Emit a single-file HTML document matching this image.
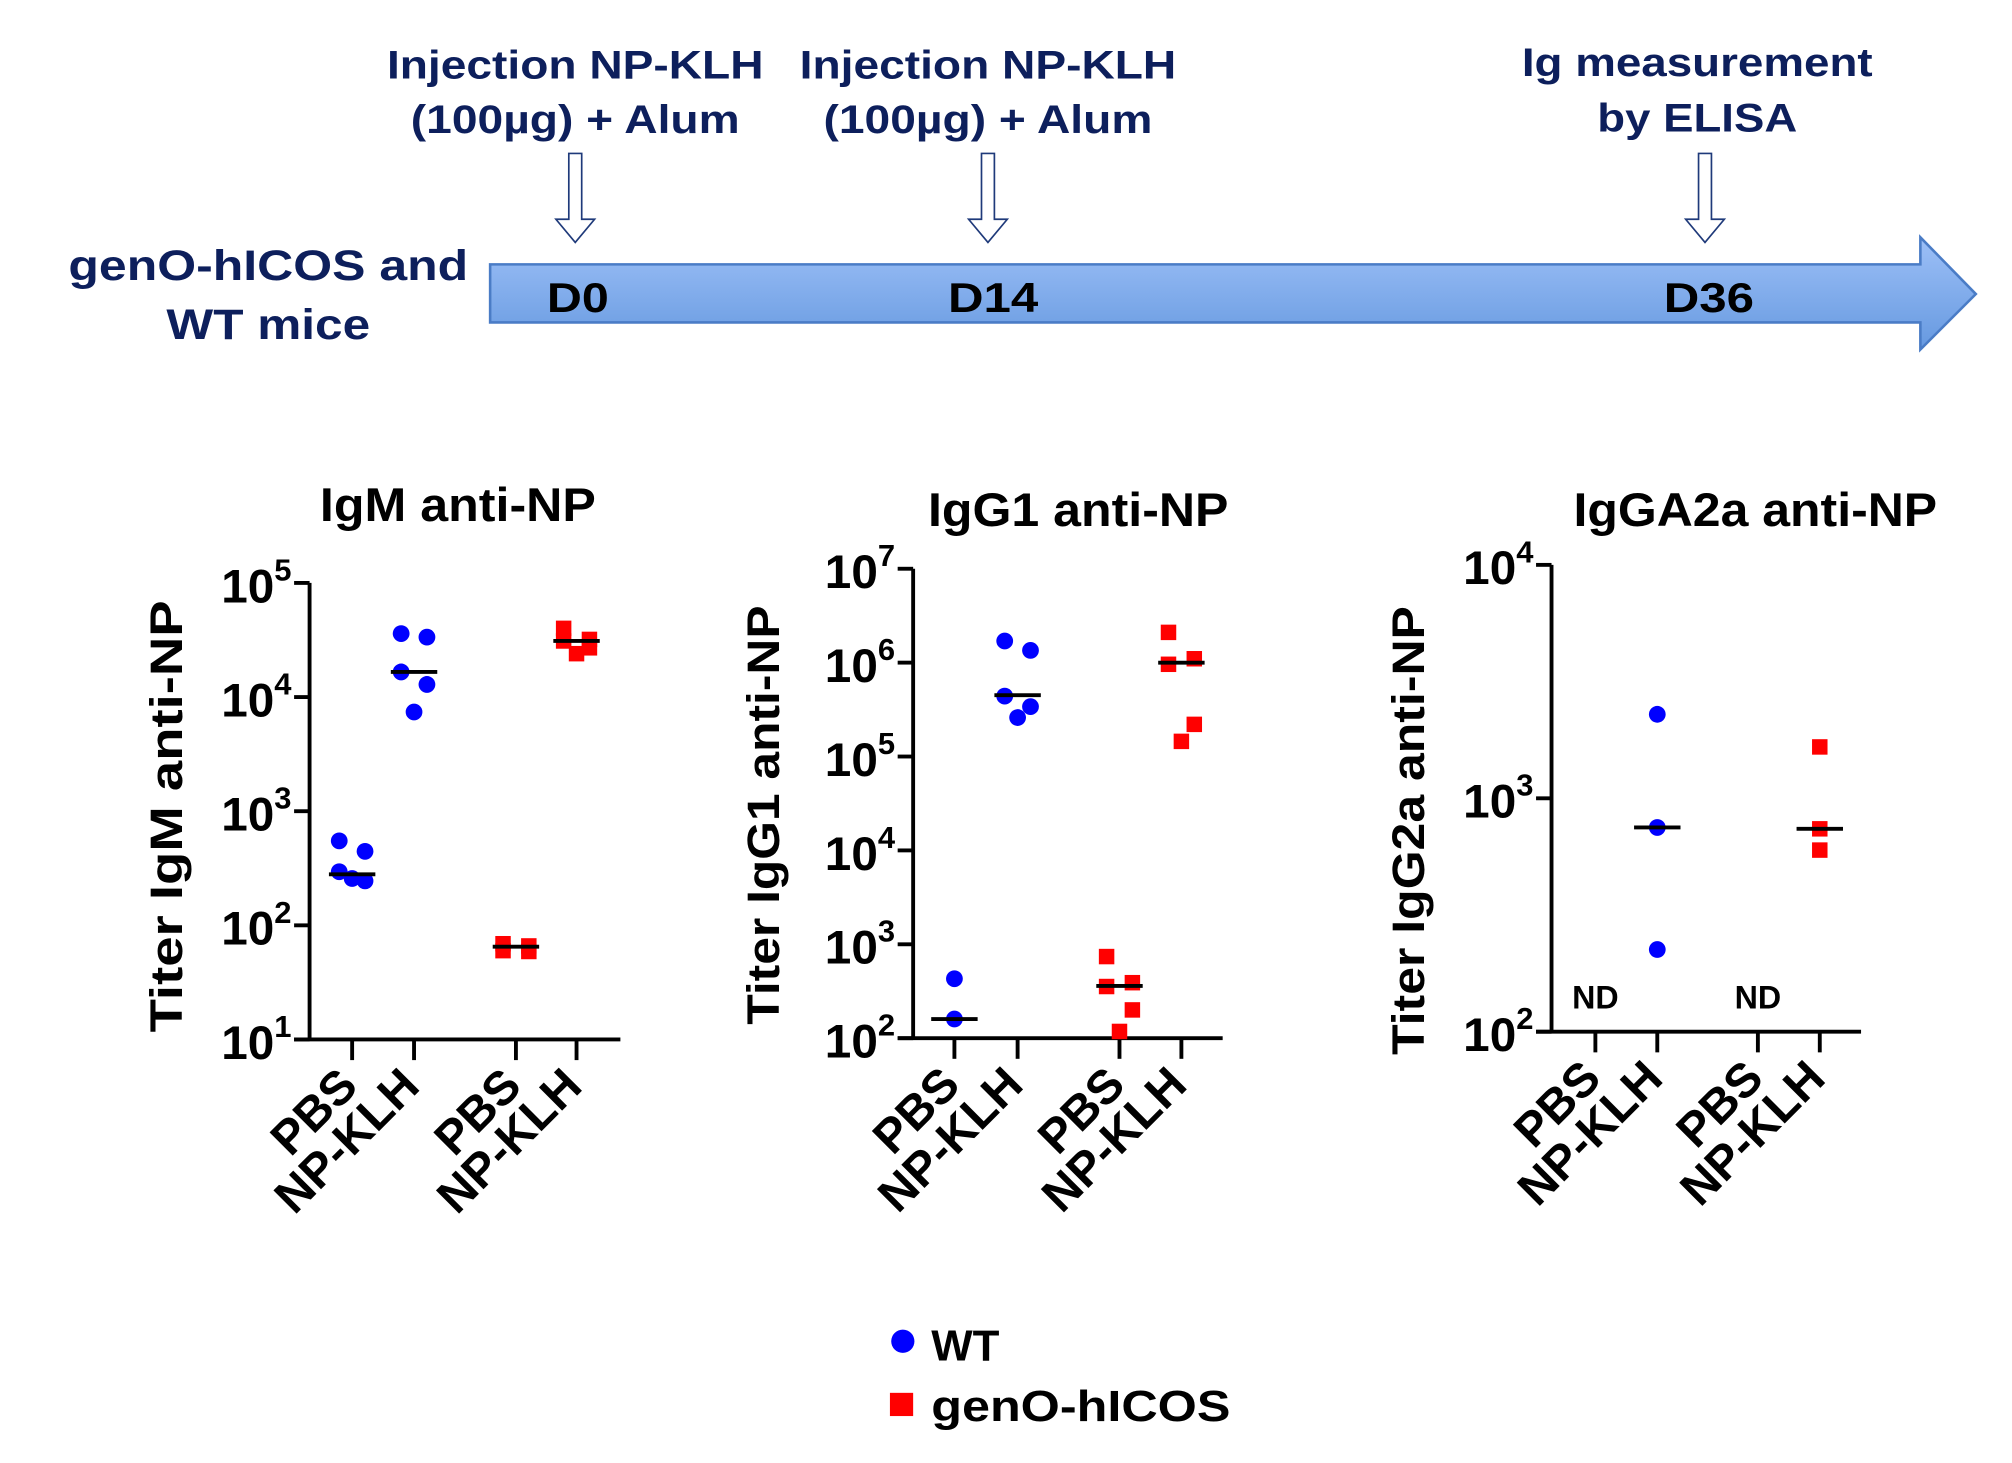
<!DOCTYPE html>
<html><head><meta charset="utf-8"><style>
html,body{margin:0;padding:0;background:#fff}
svg{display:block}
text{font-family:"Liberation Sans",Arial,sans-serif;font-weight:bold}
</style></head><body>
<svg id="fig" width="2012" height="1463" viewBox="0 0 1560 1134.4" xmlns="http://www.w3.org/2000/svg">
<defs>
<linearGradient id="ag" x1="0" y1="0" x2="0" y2="1">
<stop offset="0" stop-color="#9dc0f7"/><stop offset="1" stop-color="#6699e0"/>
</linearGradient>
</defs>
<g fill="#0d1f5c">
<text x="446" y="61" font-size="31" text-anchor="middle" textLength="292" lengthAdjust="spacingAndGlyphs">Injection NP-KLH</text>
<text x="446" y="103" font-size="31" text-anchor="middle" textLength="255" lengthAdjust="spacingAndGlyphs">(100µg) + Alum</text>
<text x="766" y="61" font-size="31" text-anchor="middle" textLength="292" lengthAdjust="spacingAndGlyphs">Injection NP-KLH</text>
<text x="766" y="103" font-size="31" text-anchor="middle" textLength="255" lengthAdjust="spacingAndGlyphs">(100µg) + Alum</text>
<text x="1316" y="59" font-size="31" text-anchor="middle" textLength="272" lengthAdjust="spacingAndGlyphs">Ig measurement</text>
<text x="1316" y="102" font-size="31" text-anchor="middle" textLength="155" lengthAdjust="spacingAndGlyphs">by ELISA</text>
<text x="208" y="217" font-size="33" text-anchor="middle" textLength="310" lengthAdjust="spacingAndGlyphs">genO-hICOS and</text>
<text x="208" y="263" font-size="33" text-anchor="middle" textLength="158" lengthAdjust="spacingAndGlyphs">WT mice</text>
<path d="M380,205 L1489,205 L1489,184 L1532,228 L1489,271 L1489,250 L380,250 Z" fill="url(#ag)" stroke="#4a7cc6" stroke-width="2"/>
<g fill="#fff" stroke="#1f3a7a" stroke-width="1.3">
<path d="M441,119 L451,119 L451,170 L461,170 L446,188 L431,170 L441,170 Z"/>
<path d="M761,119 L771,119 L771,170 L781,170 L766,188 L751,170 L761,170 Z"/>
<path d="M1317,119 L1327,119 L1327,170 L1337,170 L1322,188 L1307,170 L1317,170 Z"/>
</g>
<g fill="#000" font-size="32" text-anchor="middle">
<text x="448" y="242" textLength="48" lengthAdjust="spacingAndGlyphs">D0</text>
<text x="770" y="242" textLength="70" lengthAdjust="spacingAndGlyphs">D14</text>
<text x="1325" y="242" textLength="70" lengthAdjust="spacingAndGlyphs">D36</text>
</g>
</g>
<g id="charts"></g>
<g>
<circle cx="700" cy="1040" r="9" fill="#0000ff"/>
<text x="722" y="1055" font-size="34">WT</text>
<rect x="690" y="1080" width="18" height="18" fill="#ff0000"/>
<text x="722" y="1102" font-size="34" textLength="232" lengthAdjust="spacingAndGlyphs">genO-hICOS</text>
</g>
</svg>
<script>
// IgM panel data
const igmCategories = ["PBS","NP-KLH","PBS","NP-KLH"];
const igmWT_PBS = [550,445,295,245,257];
const igmWT_KLH = [36000,33500,16600,12900,7400];
const igmGeno_PBS = [69,66,60,59];
const igmGeno_KLH = [40000,32000,31000,27000,24000];
const igmMedians = [280,16600,65,31000];
const igmTicks = [1,2,3,4,5];
// IgG1 panel data
const igg1WT_PBS = [430,160];
const igg1WT_KLH = [1700000,1350000,440000,340000,260000];
const igg1Geno_PBS = [740,390,355,200,118];
const igg1Geno_KLH = [2100000,1100000,960000,220000,145000];
const igg1Medians = [160,450000,360,1000000];
const igg1Ticks = [2,3,4,5,6,7];
// IgG2a panel data
const igg2WT_KLH = [2290,750,225];
const igg2Geno_KLH = [1660,740,600];
const igg2Medians = [null,750,null,740];
const igg2Ticks = [2,3,4];

const NS="http://www.w3.org/2000/svg";
const root=document.getElementById('charts');
function mk(tag,attrs,parent){const e=document.createElementNS(NS,tag);for(const k in attrs)e.setAttribute(k,attrs[k]);(parent||root).appendChild(e);return e;}

function jitter(n,i){
  if(n<=3) return 0;
  const pat=[-10,10,-10,10,0,0];
  return pat[i%pat.length];
}

function panel(cfg){
  const g=mk('g',{});
  
  
  const lo=cfg.ticks[0], hi=cfg.ticks[cfg.ticks.length-1];
  const y=v=>cfg.y0-(Math.log10(v)-lo)/(hi-lo)*(cfg.y0-cfg.y1);
  const x=i=>cfg.xs[i];
  const t=mk('text',{x:cfg.titleX,y:cfg.titleY,'font-size':37,'text-anchor':'middle',textLength:cfg.titleLen,lengthAdjust:'spacingAndGlyphs'},g);
  t.textContent=cfg.title;
  
  
  const yt=mk('text',{transform:`translate(${cfg.ytX},${cfg.ytY}) rotate(-90)`,'font-size':35,'text-anchor':'middle',textLength:cfg.ytLen,lengthAdjust:'spacingAndGlyphs'},g);
  yt.textContent=cfg.ytitle;
  
  
  const ax=mk('path',{d:`M${cfg.ax},${cfg.y1} L${cfg.ax},${cfg.y0} M${cfg.ax-12},${cfg.y0} L${cfg.xEnd},${cfg.y0}`,stroke:'#000','stroke-width':3,fill:'none'},g);
  
  
  cfg.ticks.forEach(d=>{
    const yy=y(Math.pow(10,d));
    const tk=mk('line',{x1:cfg.ax-12,x2:cfg.ax,y1:yy,y2:yy,stroke:'#000','stroke-width':3},g);
    
    
    const lb=mk('text',{x:cfg.ax-14,y:yy+15,'font-size':37,'text-anchor':'end'},g);
    
    
    const a=document.createElementNS(NS,'tspan');a.textContent='10';lb.appendChild(a);
    const b=document.createElementNS(NS,'tspan');b.textContent=String(d);b.setAttribute('font-size','24');b.setAttribute('dy','-17');lb.appendChild(b);
  });
  igmCategories.forEach((c,i)=>{
    const tk=mk('line',{x1:x(i),x2:x(i),y1:cfg.y0,y2:cfg.y0+16,stroke:'#000','stroke-width':3},g);
    
    
    const lb=mk('text',{transform:`translate(${x(i)+6},${cfg.y0+38}) rotate(-45)`,'font-size':37,'text-anchor':'end'},g);
    lb.textContent=c;
    
    
  });
  cfg.series.forEach((s,i)=>{
    if(!s) return;
    s.forEach((v,j)=>{
      const cx=x(i)+jitter(s.length,j), cy=y(v);
      let m;
      if(i<2){m=mk('circle',{cx:cx,cy:cy,r:6.5,fill:'#0000ff'},g);}
      else{m=mk('rect',{x:cx-6,y:cy-6,width:12,height:12,fill:'#ff0000'},g);}
      
    });
  });
  cfg.medians.forEach((v,i)=>{
    if(v==null) return;
    const m=mk('line',{x1:x(i)-18,x2:x(i)+18,y1:y(v),y2:y(v),stroke:'#000','stroke-width':3},g);
    
    
  });
  (cfg.nd||[]).forEach(i=>{
    const n=mk('text',{x:x(i),y:cfg.y0-18,'font-size':25,'text-anchor':'middle'},g);
    n.textContent='ND';
    
    
  });
}

panel({name:'igm-chart',title:'IgM anti-NP',titleX:355,titleY:404,titleLen:214,ytitle:'Titer IgM anti-NP',ytX:141,ytY:633,ytLen:335,
  ax:240,xEnd:481,y0:806,y1:452,ticks:igmTicks,xs:[273,321,400,447],
  series:[igmWT_PBS,igmWT_KLH,igmGeno_PBS,igmGeno_KLH],medians:igmMedians});
panel({name:'igg1-chart',title:'IgG1 anti-NP',titleX:836,titleY:408,titleLen:233,ytitle:'Titer IgG1 anti-NP',ytX:604,ytY:632,ytLen:325,
  ax:708,xEnd:948,y0:805,y1:441,ticks:igg1Ticks,xs:[740,789,868,916],
  series:[igg1WT_PBS,igg1WT_KLH,igg1Geno_PBS,igg1Geno_KLH],medians:igg1Medians});
panel({name:'igg2a-chart',title:'IgGA2a anti-NP',titleX:1361,titleY:408,titleLen:282,ytitle:'Titer IgG2a anti-NP',ytX:1104,ytY:644,ytLen:348,
  ax:1203,xEnd:1443,y0:800,y1:438,ticks:igg2Ticks,xs:[1237,1285,1363,1411],
  series:[null,igg2WT_KLH,null,igg2Geno_KLH],medians:igg2Medians,nd:[0,2]});
</script>
</body></html>
